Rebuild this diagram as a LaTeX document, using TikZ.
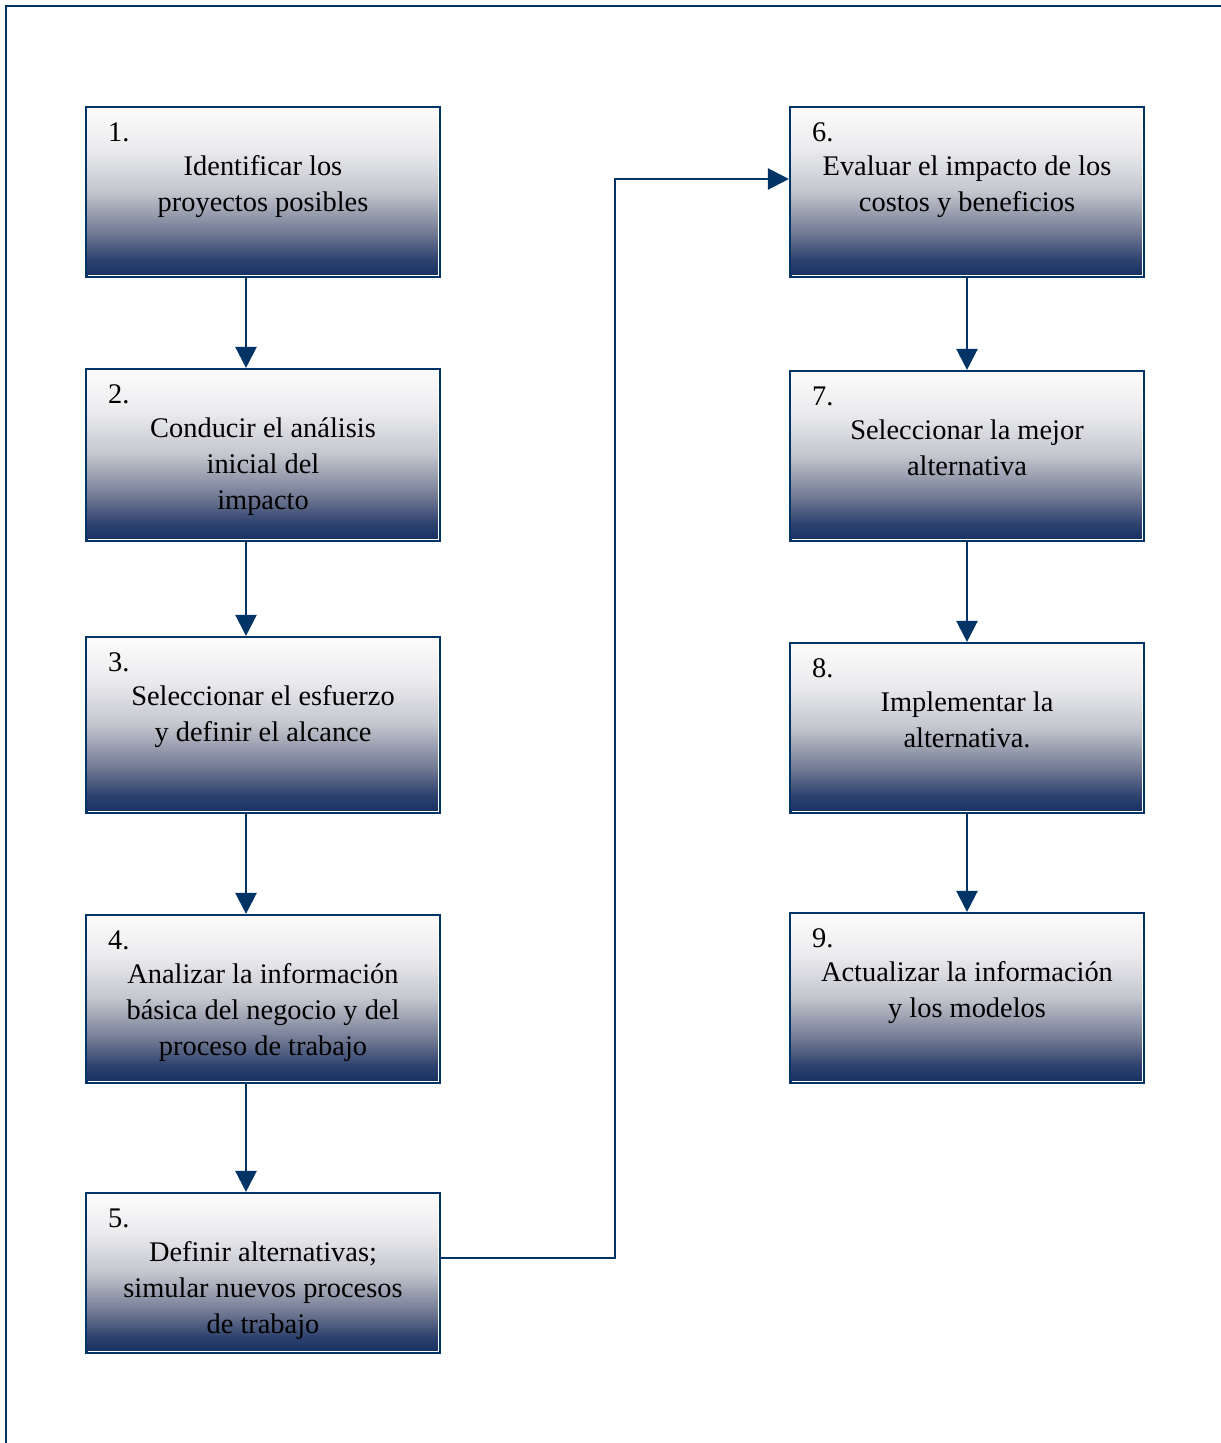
\documentclass[tikz,border=0pt]{standalone}
\usepackage{fontspec}
\setmainfont{Liberation Serif}
\usetikzlibrary{arrows.meta}

\definecolor{framenavy}{RGB}{0,51,102}
\definecolor{shadeA}{RGB}{22,48,98}
\definecolor{shadeB}{RGB}{45,65,110}
\definecolor{shadeC}{RGB}{110,118,145}
\definecolor{shadeD}{RGB}{195,197,205}
\definecolor{shadeE}{RGB}{235,235,238}
\definecolor{shadeF}{RGB}{252,252,252}
\pgfdeclareverticalshading{boxshade}{100bp}{color(0bp)=(shadeA); color(25bp)=(shadeA);
  color(30bp)=(shadeB); color(37.5bp)=(shadeC); color(50bp)=(shadeD);
  color(62.5bp)=(shadeE); color(75bp)=(shadeF); color(100bp)=(shadeF)}

\begin{document}
\begin{tikzpicture}[
  x = 0.75pt, y = -0.75pt,
  flowbox/.style = {draw=framenavy, line width=1.6pt, shading=boxshade,
    minimum width=265.5pt, inner sep=0pt},
  boxtext/.style = {font=\fontsize{21.3pt}{27pt}\selectfont, align=center, inner sep=0pt},
  glint/.style = {draw=white, line width=0.75pt},
  flow/.style = {draw=framenavy, line width=1.7pt,
    -{Triangle[width=15.75pt, length=15.75pt]}},
]
\useasboundingbox (0,0) rectangle (1221,1443);

% outer frame, open to the right and bottom
\draw[framenavy, line width=1.75pt] (1221,6) -- (6,6) -- (6,1443);

% the base anchor of a wrapped node sits on its last line
\foreach \n/\cx/\cy/\h/\k/\txt in {
  1/263/192/170/2/{Identificar los\\proyectos posibles},
  2/263/455/172/3/{Conducir el análisis\\inicial del\\impacto},
  3/263/725/176/2/{Seleccionar el esfuerzo\\y definir el alcance},
  4/263/999/168/3/{Analizar la información\\básica del negocio y del\\proceso de trabajo},
  5/263/1273/160/3/{Definir alternativas;\\simular nuevos procesos\\de trabajo},
  6/967/192/170/2/{Evaluar el impacto de los\\costos y beneficios},
  7/967/456/170/2/{Seleccionar la mejor\\alternativa},
  8/967/728/170/2/{Implementar la\\alternativa.},
  9/967/998/170/2/{Actualizar la información\\y los modelos}}
{
  \node[flowbox, minimum height=\h*0.75pt] (b\n) at (\cx,\cy) {};
  \draw[glint] ([shift={(-3,5)}]b\n.north east) -- ([shift={(-3,-3)}]b\n.south east)
    -- ([shift={(3,-3)}]b\n.south west);
  \node[boxtext, anchor=base west] (n\n) at ([shift={(23,36)}]b\n.north west) {\n.};
  \node[boxtext, anchor=base] (t\n) at ([shift={(0,34+36*\k)}]b\n.north) {\txt};
}

\foreach \a/\b in {1/2, 2/3, 3/4, 4/5}
  \draw[flow] ([xshift=-12.75pt]b\a.south) -- ([xshift=-12.75pt]b\b.north);
\foreach \a/\b in {6/7, 7/8, 8/9}
  \draw[flow] (b\a.south) -- (b\b.north);

\draw[flow] ([yshift=11.25pt]b5.east) -- ++(174,0) |- ([yshift=9.75pt]b6.west);

\end{tikzpicture}
\end{document}
